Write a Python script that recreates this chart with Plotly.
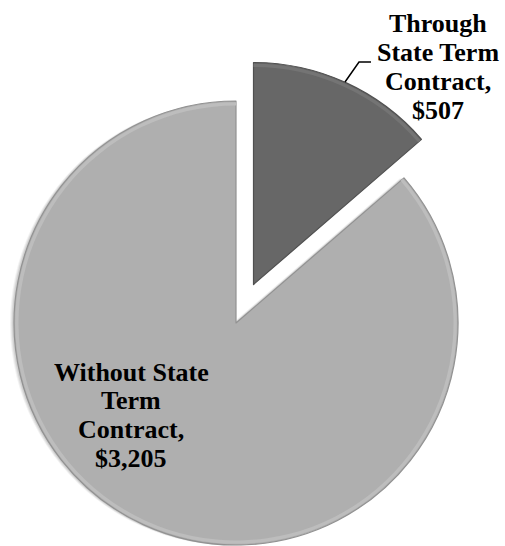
import plotly.graph_objects as go

# Spend split by purchasing route
categories = ["Through State Term Contract", "Without State Term Contract"]
values = [507, 3205]
slice_colors = ["#676767", "#afafaf"]
rim_colors = ["#747474", "#bdbdbd"]
edge_colors = ["#505050", "#929292"]
label_lines = [
    ["Through", "State Term", "Contract,", "${:,}".format(values[0])],
    ["Without State", "Term", "Contract,", "${:,}".format(values[1])],
]

W, H = 505, 546
R = 222  # pie radius in px


def px_domain(cx, cy, r):
    """Square pie domain (paper fractions) centred at pixel (cx, cy)."""
    clamp = lambda v: min(1.0, max(0.0, v))
    return dict(x=[clamp((cx - r) / W), clamp((cx + r) / W)],
                y=[clamp(1 - (cy + r) / H), clamp(1 - (cy - r) / H)])


def pie(visible_idx, domain, palette, line_palette=None, hole=0.0, lw=1.2):
    colors = [c if i == visible_idx else "rgba(0,0,0,0)" for i, c in enumerate(palette)]
    if line_palette is None:
        line = dict(width=0)
    else:
        line = dict(color=[c if i == visible_idx else "rgba(0,0,0,0)"
                           for i, c in enumerate(line_palette)],
                    width=[lw if i == visible_idx else 0 for i in range(len(values))])
    return go.Pie(
        labels=categories, values=values, sort=False, direction="clockwise",
        rotation=0, textinfo="none", hoverinfo="skip", showlegend=False,
        hole=hole, marker=dict(colors=colors, line=line), domain=domain,
    )


fig = go.Figure()

# Soft drop shadow to the lower left of the main body
for dx, dy, alpha in [(4, 1.0, 0.05), (3, 0.8, 0.06), (2, 0.5, 0.08)]:
    shade = ["rgba(0,0,0,%.2f)" % alpha] * len(values)
    fig.add_trace(pie(1, px_domain(236 - dx, 323 + dy * 0.5, R), shade))

# Main body of the pie
fig.add_trace(pie(1, px_domain(236, 323, R), slice_colors, edge_colors))
fig.add_trace(pie(1, px_domain(236, 323, R - 1.2), rim_colors, hole=0.985))
# Exploded slice, shifted outward along its bisector
fig.add_trace(pie(0, px_domain(253.5, 284.5, R), slice_colors, edge_colors))
fig.add_trace(pie(0, px_domain(253.5, 284.5, R - 1.2), rim_colors, hole=0.985))

font = dict(family="Liberation Serif, Times New Roman, serif", size=26, color="#000000")
label_pos = [(438, 24), (131, 372)]
step = 28.8
annotations = []
for lines, (x0, y0) in zip(label_lines, label_pos):
    for k, line in enumerate(lines):
        annotations.append(dict(
            text="<b>%s</b>" % line, x=x0 / W, y=1 - (y0 + k * step) / H,
            xref="paper", yref="paper", xanchor="center", yanchor="middle",
            showarrow=False, font=font,
        ))

# Leader line for the exploded slice's label
pts = [(345, 82), (359, 62), (371, 62)]
path = "M " + " L ".join("%f,%f" % (x / W, 1 - y / H) for x, y in pts)

fig.update_layout(
    width=W, height=H, margin=dict(l=0, r=0, t=0, b=0),
    paper_bgcolor="white", plot_bgcolor="white",
    annotations=annotations,
    shapes=[dict(type="path", path=path, xref="paper", yref="paper",
                 line=dict(color="black", width=1.5))],
)

fig.write_html("out.html")
